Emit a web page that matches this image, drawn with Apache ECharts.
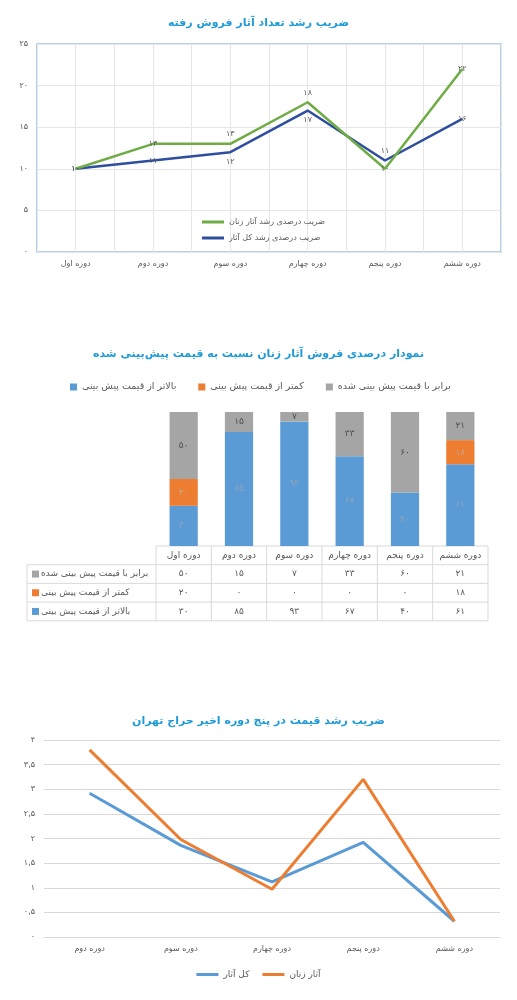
<!DOCTYPE html>
<html><head><meta charset="utf-8">
<script src="https://cdn.jsdelivr.net/npm/echarts@6/dist/echarts.min.js"></script>
<style>html,body{margin:0;padding:0;background:#fff}#c{width:517px;height:1000px}</style>
</head><body><div id="c"></div>
<script>
// ---------- DATA ----------
const periods6 = ['دوره اول','دوره دوم','دوره سوم','دوره چهارم','دوره پنجم','دوره ششم'];
const growthWomen = [10, 13, 13, 18, 10, 22];
const growthAll   = [10, 11, 12, 17, 11, 16];

const aboveEst = [30, 85, 93, 67, 40, 61];
const belowEst = [20, 0, 0, 0, 0, 18];
const equalEst = [50, 15, 7, 33, 60, 21];

const periods5 = ['دوره دوم','دوره سوم','دوره چهارم','دوره پنجم','دوره ششم'];
const priceWomen = [3.8, 1.98, 0.97, 3.2, 0.32];
const priceAll   = [2.92, 1.86, 1.12, 1.92, 0.32];

const titles = ['ضریب رشد تعداد آثار فروش رفته','نمودار درصدی فروش آثار زنان نسبت به قیمت پیش‌بینی شده','ضریب رشد قیمت در پنج دوره اخیر حراج تهران'];
const nWomen1 = 'ضریب درصدی رشد آثار زنان', nAll1 = 'ضریب درصدی رشد کل آثار';
const nAbove = 'بالاتر از قیمت پیش بینی', nBelow = 'کمتر از قیمت پیش بینی', nEqual = 'برابر با قیمت پیش بینی شده';
const nWomen3 = 'آثار زنان', nAll3 = 'کل آثار';

// ---------- STYLE ----------
const FONT = 'DejaVu Sans';
const TXT = '#595959';
const fa = v => String(v).replace(/\d/g, d => '۰۱۲۳۴۵۶۷۸۹'[+d]).replace('.', ',');
const posWomen1 = ['inside','inside','top','top','inside','inside'];
const posAll1   = ['inside','inside','bottom','bottom','top','inside'];
const withPos = (vals, pos) => vals.map((v, i) => ({ value: v, label: { position: pos[i] } }));
const cBlue = '#5B9BD5', cOrange = '#ED7D31', cGray = '#A5A5A5';

const chart = echarts.init(document.getElementById('c'), null, { renderer: 'canvas' });
const titleStyle = { color: '#1E9BD7', fontSize: 11, fontWeight: 'bold', fontFamily: FONT };

chart.setOption({
  animation: false,
  textStyle: { fontFamily: FONT },
  title: [
    { text: titles[0], left: 'center', top: 13, textStyle: titleStyle },
    { text: titles[1], left: 'center', top: 344, textStyle: titleStyle },
    { text: titles[2], left: 'center', top: 711, textStyle: titleStyle }
  ],
  legend: [
    { data: [nWomen1, nAll1], orient: 'vertical', left: 197, top: 213, icon: 'rect',
      itemWidth: 22, itemHeight: 3, itemGap: 8,
      textStyle: { fontSize: 8, color: TXT, fontFamily: FONT } },
    { data: [nAbove, nBelow, nEqual], left: 65, top: 377, icon: 'rect',
      itemWidth: 7, itemHeight: 7, itemGap: 22,
      textStyle: { fontSize: 9.5, color: TXT, fontFamily: FONT } },
    { data: [nAll3, nWomen3], left: 'center', top: 965, icon: 'rect',
      itemWidth: 22, itemHeight: 3, itemGap: 13,
      textStyle: { fontSize: 9, color: TXT, fontFamily: FONT } }
  ],
  grid: [
    { left: 37, right: 16, top: 44, height: 208, show: true, borderColor: '#9DC3E6', borderWidth: 1.5 },
    { left: 156, right: 29, top: 412, height: 134 },
    { left: 44, right: 17, top: 740, height: 197 }
  ],
  xAxis: [
    { id: 'lineX', gridIndex: 0, type: 'category', data: periods6, boundaryGap: true,
      axisLine: { show: false }, axisTick: { show: false }, splitLine: { show: false },
      axisLabel: { fontSize: 8, color: TXT, margin: 8 } },
    { id: 'gridHelper', gridIndex: 0, type: 'value', min: 0, max: periods6.length * 2, interval: 1,
      axisLine: { show: false }, axisTick: { show: false }, axisLabel: { show: false },
      splitLine: { show: true, lineStyle: { color: '#E6E6E6' } } },
    { id: 'barX', gridIndex: 1, type: 'category', data: periods6,
      axisLine: { show: false }, axisTick: { show: false }, axisLabel: { show: false } },
    { id: 'priceX', gridIndex: 2, type: 'category', data: periods5, boundaryGap: true,
      axisLine: { lineStyle: { color: '#D9D9D9' } }, axisTick: { show: false },
      axisLabel: { fontSize: 8, color: TXT, margin: 8 } }
  ],
  yAxis: [
    { id: 'lineY', gridIndex: 0, type: 'value', min: 0, max: 25, interval: 5,
      axisLine: { show: false }, axisTick: { show: false },
      axisLabel: { fontSize: 8, color: TXT, margin: 9, formatter: fa },
      splitLine: { lineStyle: { color: '#E6E6E6' } } },
    { id: 'barY', gridIndex: 1, type: 'value', min: 0, max: 100, show: false, splitLine: { show: false } },
    { id: 'priceY', gridIndex: 2, type: 'value', min: 0, max: 4, interval: 0.5,
      axisLine: { show: false }, axisTick: { show: false },
      axisLabel: { fontSize: 8, color: TXT, margin: 9, formatter: fa },
      splitLine: { lineStyle: { color: '#D9D9D9' } } }
  ],
  series: [
    { name: nAll1, type: 'line', xAxisIndex: 0, yAxisIndex: 0, data: withPos(growthAll, posAll1),
      symbol: 'circle', symbolSize: 1, color: '#2E4F9E', lineStyle: { width: 2.5, color: '#2E4F9E' },
      label: { show: true, fontSize: 8, color: TXT, formatter: p => fa(p.value) } },
    { name: nWomen1, type: 'line', xAxisIndex: 0, yAxisIndex: 0, data: withPos(growthWomen, posWomen1),
      symbol: 'circle', symbolSize: 1, color: '#6FAC46', lineStyle: { width: 2.5, color: '#6FAC46' },
      label: { show: true, fontSize: 8, color: TXT, formatter: p => fa(p.value) } },

    { name: nAbove, type: 'bar', stack: 'p', xAxisIndex: 2, yAxisIndex: 1, data: aboveEst, barWidth: '51%',
      itemStyle: { color: cBlue },
      label: { show: true, position: 'inside', fontSize: 9, color: 'rgba(150,165,185,0.9)', formatter: p => p.value ? fa(p.value) : '' } },
    { name: nBelow, type: 'bar', stack: 'p', xAxisIndex: 2, yAxisIndex: 1, data: belowEst, barWidth: '51%',
      itemStyle: { color: cOrange },
      label: { show: true, position: 'inside', fontSize: 9, color: 'rgba(200,170,150,0.95)', formatter: p => p.value ? fa(p.value) : '' } },
    { name: nEqual, type: 'bar', stack: 'p', xAxisIndex: 2, yAxisIndex: 1, data: equalEst, barWidth: '51%',
      itemStyle: { color: cGray },
      label: { show: true, position: 'inside', fontSize: 9, color: '#505050', formatter: p => p.value ? fa(p.value) : '' } },

    { name: nAll3, type: 'line', xAxisIndex: 3, yAxisIndex: 2, data: priceAll, showSymbol: false,
      color: cBlue, lineStyle: { width: 3, color: cBlue } },
    { name: nWomen3, type: 'line', xAxisIndex: 3, yAxisIndex: 2, data: priceWomen, showSymbol: false,
      color: cOrange, lineStyle: { width: 3, color: cOrange } }
  ]
});

// ---------- DATA TABLE under the bar chart ----------
(function () {
  const xs = periods6.map((c, i) => chart.convertToPixel({ xAxisId: 'barX' }, i));
  const cw = xs[1] - xs[0];
  const x0 = xs[0] - cw / 2, x1 = xs[xs.length - 1] + cw / 2;
  const yTop = chart.convertToPixel({ yAxisId: 'barY' }, 0);
  const rh = 18.7, labelLeft = 27;
  const rows = [
    { name: nEqual, vals: equalEst, color: cGray },
    { name: nBelow, vals: belowEst, color: cOrange },
    { name: nAbove, vals: aboveEst, color: cBlue }
  ];
  const ls = { stroke: '#D9D9D9', lineWidth: 1 };
  const g = [];
  const line = (ax, ay, bx, by) => g.push({ type: 'line', shape: { x1: ax, y1: ay, x2: bx, y2: by }, style: ls, silent: true });
  line(x0, yTop, x1, yTop);
  for (let r = 1; r <= rows.length + 1; r++) line(labelLeft, yTop + r * rh, x1, yTop + r * rh);
  for (let i = 0; i <= xs.length; i++) { const xb = x0 + i * cw; line(xb, yTop, xb, yTop + (rows.length + 1) * rh); }
  line(labelLeft, yTop + rh, labelLeft, yTop + (rows.length + 1) * rh);
  const txt = (s, x, y, align) => g.push({ type: 'text', silent: true,
    style: { text: s, x: x, y: y, align: align, verticalAlign: 'middle', fill: TXT, font: '9px "DejaVu Sans"' } });
  periods6.forEach((p, i) => txt(p, xs[i], yTop + rh / 2, 'center'));
  rows.forEach((row, r) => {
    const yc = yTop + (r + 1) * rh + rh / 2;
    g.push({ type: 'rect', silent: true, shape: { x: labelLeft + 5, y: yc - 3.5, width: 7, height: 7 }, style: { fill: row.color } });
    txt(row.name, labelLeft + 14, yc, 'left');
    row.vals.forEach((v, i) => txt(fa(v), xs[i], yc, 'center'));
  });
  chart.setOption({ graphic: g });
})();
</script>
</body></html>
